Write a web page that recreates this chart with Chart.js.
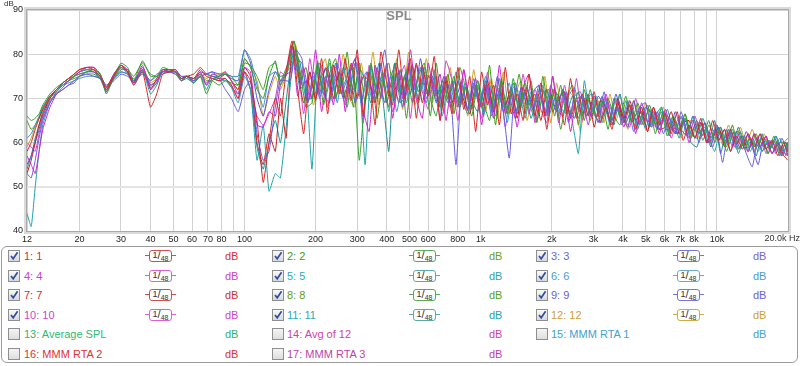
<!DOCTYPE html>
<html><head><meta charset="utf-8">
<script src="https://cdn.jsdelivr.net/npm/chart.js@4"></script>
<style>
html,body{margin:0;padding:0;background:#fff;width:800px;height:366px;overflow:hidden;font-family:"Liberation Sans",Arial,sans-serif;}
#wrap{position:relative;width:800px;height:366px;}
#c{position:absolute;left:0;top:0;}
#legend{position:absolute;left:1px;top:246px;width:797px;height:117px;border:1px solid #9c9c9c;border-radius:6px;box-sizing:border-box;}
.cb{position:absolute;width:12px;height:12px;box-sizing:border-box;border:1px solid #8e8e8e;background:linear-gradient(#fafafa,#d8d8d8);}
.cb svg{position:absolute;left:0;top:0;}
.lt{position:absolute;font-size:11px;line-height:14px;height:14px;white-space:nowrap;}
.ic{position:absolute;width:31px;height:12px;}
.ic .ln{position:absolute;left:0;right:0;top:5px;height:1px;}
.ic .bx{position:absolute;left:4px;top:0;width:23px;height:12px;box-sizing:border-box;border:1.5px solid;border-radius:3px;background:#fff;color:#333;font-size:8px;line-height:9px;text-align:center;white-space:nowrap;}
</style>
</head><body>
<div id="wrap">
<canvas id="c" width="800" height="245"></canvas>
<div id="legend"></div>
</div>
<script>
// ---- data ----
const freqsLow = [12,12.5,13,13.5,14,15,16,17,18,19,20,21.5,23,24.5,26,28,30,32,34,37,40,42.5,45,48,51,54,57,61,65,69,73,78,83,88,94,100,106,113,120,127,135,142];
const freqsHighA = [150,159,168,178,189,200,212,225,238,252,267,283,300,318,337,357,378,400,424,450,476,504,534,566,600,636,673,713,756,801,848,899,952,1009,1069,1133,1200,1271,1347,1427,1512,1602,1697,1798,1905,2018,2138,2265,2400,2543,2694,2854,3024,3204,3394,3596,3810,4036,4276,4531,4800,5085,5388,5708,6048,6407,6788,7192,7620,8073,8553,9061,9600,10171,10776,11417,12095,12815,13577,14384,15240,16146,17106,18123,19201,20000];
const freqsHighB = [153,162,172,182,193,204,216,229,243,257,272,289,306,324,343,364,385,408,432,458,485,514,545,577,612,648,687,727,771,816,865,916,971,1029,1090,1155,1223,1296,1373,1455,1541,1633,1730,1833,1942,2057,2180,2309,2447,2592,2746,2910,3083,3266,3460,3666,3884,4115,4360,4619,4893,5184,5492,5819,6165,6532,6920,7332,7768,8230,8719,9237,9787,10369,10986,11639,12330,13064,13841,14664,15536,16460,17439,18475,19574,20000];
const freqsHighC = [156,165,175,185,196,208,220,234,247,262,278,294,312,330,350,371,393,416,441,467,495,524,556,589,624,661,700,742,786,832,882,934,990,1049,1111,1177,1247,1321,1400,1483,1571,1665,1764,1869,1980,2097,2222,2354,2494,2643,2800,2966,3143,3329,3527,3737,3959,4195,4444,4709,4988,5285,5599,5932,6285,6659,7055,7474,7919,8390,8888,9417,9977,10570,11199,11865,12570,13318,14110,14949,15838,16780,17778,18835,19900,20000];

const spl1 = [58,60,63,65.5,67.5,70.5,72,73.5,74.5,75.5,76.5,77,76.5,75,72,75,77.5,76,73,76,68,71,75.5,76,76.5,74.5,75,74.5,76.5,75,74.5,74,74.5,73,70,76,74,65,51,60,70,66,
76,83,72,62,76,69.5,79,66.5,77.5,71,79,69.5,81,66,76,64,80.5,73.5,68.5,81,70,79,65.5,77.5,70.5,79.5,65,74,66.5,77,67.5,75,62.5,76,68.5,73,64,77,66.5,71,65,75.5,66,73.5,63,72,70.5,64,74.5,65.5,
71,66,71.5,64.5,68,63,70,65.5,68.5,63,68,62.5,68,64,66.5,62,67,60.5,64,61,64.5,60,65,60.5,63,58,61.5,58.5,62,59,62,58.5,60.5,57,60,57];
const spl2 = [66,65,65.5,66.5,68.5,71,72.5,73.5,74.5,75,75.5,76,76.5,75.5,71,75,78,77,74,78.5,75,75,77,76.5,76,74,75,73.5,75,71,74,75,75.5,75,73,79,77,72,70,75,78.5,73,
77,83,76,68,69,77,72,79,70,75,68,77,56,70,78,70,75,68,78,71,76,69,75,78,70,66,74,70,75,68,72.5,67.5,74,69,65,73,71,66.5,74.5,67.5,73.5,68.5,65,71,72,66,73,66.5,67.5,71.5,65,72,65.5,69.5,63,70,66,70.5,64.5,67,64,68.5,64,67,61.5,66,63,66.5,61,64,61.5,65,60,63.5,58,62,62.5,58.5,61,59,61,57.5,61.5,58,60,59];
const spl3 = [53,52,56,61,65,69,71,72,73,73.5,75,75.5,75,74.5,72.5,74,75.5,75,74,75.5,74,75.5,76,76,76,75,75,74,75,75.5,76,74.5,72,70,67,72,74,62,56,58,68,74,
74,81,79,69,76,70,75,71,78,73,76,69,74,76,70,75,81,70,76,68,78,72,77,70,74,68,74,72,55,73,67.5,74.5,68,73,66,72,67,56.5,73.5,68.5,72.5,67.5,73,66,70,67,72,64.5,70.5,71.5,66,69,64.5,71.5,65,70,64,68.5,62.5,68,69,63.5,67,62,65.5,62,67,62.5,65,60,64.5,61,63,55.5,63,59,61.5,57.5,54.5,61,59,60.5,57.5,61,58,60];
const spl4 = [57,55,53,58,63,68,71,72.5,74,75,76,77,77,75.5,71.5,75.5,77.5,76.5,73.5,77.5,72,73.5,76.5,76,75.5,74,75,74,76,73,75.5,75,76,74,71,77,76,64,63.5,67,66,73,
76,82,70.5,77,70,81,67,75.5,68.5,80,67,77,79.5,67.5,62.5,77.5,70,78,65.5,76.5,68.5,81,70,65.5,78,70.5,75.5,65,74,68,76.5,69,74.5,64,73,65.5,77.5,66.5,71,63.5,72.5,75.5,64.5,70.5,66,75,64.5,71.5,62.5,70,
70,64,70.5,66.5,71,65,68,63.5,68.5,62,69,64.5,67,62,67.5,63,62,65.5,60,64,64.5,60,63,60.5,63,58,62.5,59.5,58,62,59,61.5,57.5,60,58,57];
const spl5 = [44,41,50,58,64,69,71.5,73,74,75,76,76.5,76.5,75,71.5,75,77,75.5,73,76.5,71,73,76,76,76,74.5,75,73.5,75,72,74.5,74,74,72.5,69,75,72,56,64,49,53,52,
68,80,72,74,54,76,71,78,70,75,77,72,75,55,77,72,76,67,75,76,69,75,70,77,71,75,66,73,72,68,73.5,68.5,74,66,73,69,72,64.5,72.5,71.5,65.5,71.5,68,73,66,70,67,71.5,64.5,57.5,74,66,70.5,64.5,69,66,71,64.5,67.5,63,68,63.5,66,68,62.5,65,61,65.5,62,61,65.5,61,58,63.5,60,63,57.5,61.5,58,61,58,60.5,58.5,61,57,60];
const spl6 = [61,62,64,66,68,70.5,72,73,73.5,74,74.5,75,75,74.5,72.5,74.5,76,75.5,74.5,76,74,75,75.5,76,75.5,74.5,75,74,75,75.5,75,75,75.5,75,75,81,79,73,68,75,76,74,
77,79,78,69,74,78,70,76,69,77,71,78,69,74,69,78,72,75,67,74,77,70,74,69,77,70,73,68,76,70,66.5,72.5,69,75,67,71,68,73.5,66.5,71.5,70.5,66.5,72,67,73,68,66,70.5,72.5,66.5,70,71,66.5,69.5,64,68,65,69.5,65.5,68,63,67.5,63,67,65.5,62,66,61.5,66,62,63.5,60,64,60.5,62,60,62.5,58.5,61,58,61,58.5,61.5,58,59,60];
const spl7 = [53,56,60,64,66.5,70,72,73.5,74.5,75.5,76.5,77,77,75.5,72.5,75.5,77.5,76,73.5,76.5,72,74.5,76.5,76.5,76,74.5,75,75.5,77,75.5,75,74.5,75.5,74,72,77,75,60,55,62,58,70,
61,82,76,69,76,70,75,77,70,76,70,78,70,75,74,69,78,69,75,69,75,71,78,69,75,73,68,75,69,74,69.5,66.5,73,68,74,67,72,68.5,72.5,65.5,72.5,68.5,71,65,72,67,70,71.5,65.5,69.5,66,71,63.5,69.5,68,64,69,64.5,69.5,65,67,62.5,68,63,63.5,67,62,64.5,65,61,65.5,60,61,63.5,59,63,59.5,61.5,58,62,59,61.5,57.5,60,57,56];
const spl8 = [65,63,64,65.5,68,70.5,72,73,74,74.5,75,75.5,75.5,74.5,72.5,74.5,76.5,76.5,75,78,75.5,75,76,76.5,76,74,75,74.5,75.5,74,74,73,74,73.5,73,78,77.5,75,72,77,78,74,
78,83,73.5,77,70,78.5,68.5,75.5,79,71,80.5,68,78,69,77.5,65.5,74.5,78,70,76.5,65.5,77.5,71.5,76,66,78,68,75.5,66.5,77,72,66,73,67,77.5,64,74.5,66.5,68,75.5,66.5,74,64.5,75,67.5,72,63,70,73,64,
72,65,69.5,65.5,70,66,64,69.5,64.5,69,65,67.5,62,68,63.5,66,62,66.5,62,65,60.5,64,61,62.5,59,64,58.5,61.5,59,62,58,60.5,58.5,60,60,58];
const spl9 = [55,57,60,63,66,69.5,71,72,73,74,75,76,76,75,73,74.5,76,75.5,74,76,73,74,76,76.5,76.5,75,75,74.5,76,75.5,76,75.5,75.5,74.5,74,81,78,70,66,72,76,75,
76,80,73,74,75,71,77,72,75,70,75,79,69,76,71,74,69,75,78,70,77,70,79,71,75,71,75,69,70,74,67.5,73.5,68,74,68,75,67,70.5,65.5,72.5,68.5,71.5,73,66,71,67,72,67.5,65.5,70.5,69,66,70.5,68.5,65,71,66,63.5,69.5,64,68,66.5,63,67,61.5,67,63,61.5,66,62,64.5,59,64,60.5,62,62,58.5,62.5,59,55,61,58.5,61.5,57,60,58];
const spl10 = [60,59,58,62,65.5,69,71.5,73,74,75,75.5,76,76,75,72,75,77,76,73.5,77,73,74,76,76,76,74.5,75,73.5,75.5,73.5,75,74.5,74.5,73,70,76,72,66,64,66.5,70,76,
75,82,78,66.5,79,71,77.5,68,77.5,75.5,68.5,77,78,64.5,77.5,70,74.5,76.5,67,73.5,77.5,65.5,77.5,71.5,67.5,76.5,65,78.5,74,65,76.5,67.5,71.5,65.5,76,67,74.5,63.5,72.5,66.5,75.5,66.5,72,67.5,64.5,75,66,73,65.5,74.5,
65,70,66.5,64.5,70,65,69,65.5,63.5,70,64,68.5,64,63,66.5,61,65,65.5,61,66,61.5,63,59,63.5,60,63,58.5,59.5,62,58,62,57.5,60.5,58,60,61];
const spl11 = [54,57,61,64,67,70,72,73,74,75,76,76.5,76,74.5,71.5,74.5,77,76,73.5,76.5,72.5,73.5,76,76,76,74,74.5,73.5,75,73,74.5,74,74.5,72.5,71,76,72,59,54,60,65,60,
73,81,78,70,70,78,71,69,78,71,74,71,77,74,69,77,70,58,78,69,71,77,69,75,75,69,72,69,74,69,72.5,69.5,67,72,71,66,73,67.5,73.5,66.5,71.5,65.5,70,72,67,72,68,66.5,70.5,65.5,70,69,65.5,70.5,66,64,71,64.5,67.5,64,67,63.5,67,64,67.5,63,62,65.5,60,59,63.5,60,65,57.5,63,59,63.5,59.5,61,57,62,57.5,60.5,57,60,58];
const spl12 = [59,61,63.5,65.5,67.5,70,71.5,73,74,75,76,76.5,76.5,75,72.5,75.5,77.5,76,74,77,73.5,74.5,76.5,76,76,74.5,75,74,75.5,74.5,75.5,75.5,76,74,72,79,77,74,66,71,75,72,
78,82,73.5,74,68.5,75.5,79,69.5,71.5,80,70,68,78,70.5,80.5,68.5,76,69,79,67.5,80.5,68.5,71.5,79,69,75,66.5,77,68,72.5,66,76.5,68.5,67,74.5,65.5,76,66.5,71,74,65,71,66,75,64.5,73.5,66,71.5,70,62.5,
71,67,69.5,64.5,71,65,69,63,69.5,65,69,63.5,66,68,62.5,65,61,64.5,65,61,64.5,61,64,59.5,64,60,63.5,59.5,63,59,62,58.5,60.5,57,59,60];

const seriesValues = [spl1,spl2,spl3,spl4,spl5,spl6,spl7,spl8,spl9,spl10,spl11,spl12];
const seriesHighGrid = [freqsHighA,freqsHighB,freqsHighC,freqsHighA,freqsHighB,freqsHighC,freqsHighA,freqsHighB,freqsHighC,freqsHighA,freqsHighB,freqsHighC];
const seriesNames = ['1','2','3','4','5','6','7','8','9','10','11','12'];
const seriesColors = ['#d62424','#2e9e2e','#6a5ae0','#cc22cc','#1fa2aa','#3a8ec8','#c41c1c','#3f9a16','#5a4ed8','#d040c0','#128f8d','#d0a020'];

const xTickValues = [12,20,30,40,50,60,70,80,90,100,200,300,400,500,600,700,800,900,1000,2000,3000,4000,5000,6000,7000,8000,9000,10000,20000];
const xTickLabels = ['12','20','30','40','50','60','70','80','','100','200','300','400','500','600','','800','','1k','2k','3k','4k','5k','6k','7k','8k','','10k',''];
const yTickValues = [40,50,60,70,80,90];

// ---- chart ----
const decor = {
  id:'decor',
  afterDraw(chart){
    const {ctx, chartArea:a} = chart;
    ctx.save();
    ctx.strokeStyle = '#dadada'; ctx.lineWidth = 3;
    ctx.strokeRect(a.left-1.5, a.top-1.5, a.right-a.left+3, a.bottom-a.top+3);
    ctx.strokeStyle = '#a9a9a9'; ctx.lineWidth = 1;
    ctx.strokeRect(a.left-0.5, a.top-0.5, a.right-a.left+1, a.bottom-a.top+1);
    ctx.fillStyle = '#8a8a8a';
    ctx.font = 'bold 13px "Liberation Sans", Arial, sans-serif';
    ctx.textAlign = 'center'; ctx.textBaseline = 'middle';
    ctx.fillText('SPL', 399, 16);
    ctx.fillStyle = '#333';
    ctx.font = '8px "Liberation Sans", Arial, sans-serif';
    ctx.textAlign = 'left';
    ctx.fillText('dB', 4, 4);
    ctx.font = '9px "Liberation Sans", Arial, sans-serif';
    ctx.textAlign = 'right'; ctx.textBaseline = 'top';
    ctx.fillText('20.0k Hz', 800, 234);
    ctx.restore();
  }
};

new Chart(document.getElementById('c').getContext('2d'), {
  type:'line',
  data:{
    datasets: seriesValues.map((vals,i)=>{
      const xs = freqsLow.concat(seriesHighGrid[i]);
      if (xs.length !== vals.length) console.error('length mismatch', i, xs.length, vals.length);
      return {
        label: seriesNames[i],
        data: xs.map((f,j)=>({x:f, y:vals[j]})),
        borderColor: seriesColors[i],
        borderWidth: 1,
        pointRadius: 0,
        tension: 0.15,
        fill: false
      };
    })
  },
  options:{
    responsive:false, animation:false, devicePixelRatio:1,
    layout:{padding:{left:0,right:12,top:10,bottom:0}},
    plugins:{legend:{display:false}, tooltip:{enabled:false}, title:{display:false}},
    scales:{
      x:{
        type:'logarithmic', min:12, max:20000,
        afterBuildTicks:(s)=>{ s.ticks = xTickValues.map(v=>({value:v})); },
        afterFit:(s)=>{ s.height = 14; },
        ticks:{autoSkip:false, maxRotation:0, minRotation:0, padding:3, color:'#222',
          font:{size:9, family:'"Liberation Sans", Arial, sans-serif'},
          callback:(v,i)=> xTickLabels[i]},
        grid:{color:'#d2d2d2', lineWidth:1, drawTicks:false},
        border:{display:false}
      },
      y:{
        min:40, max:90,
        afterBuildTicks:(s)=>{ s.ticks = yTickValues.map(v=>({value:v})); },
        afterFit:(s)=>{ s.width = 27; },
        ticks:{padding:4, color:'#222', font:{size:9, family:'"Liberation Sans", Arial, sans-serif'}},
        grid:{color:(c)=> (c.tick && c.tick.value===50) ? '#e4e4e4' : '#d4d4d4',
              lineWidth:(c)=> (c.tick && c.tick.value===50) ? 2 : 1, drawTicks:false},
        border:{display:false}
      }
    }
  },
  plugins:[decor]
});

// ---- legend ----
const legendItems = [
  [0,0,'1: 1','#d83030',true,'#cc5050','#d83030'],
  [0,1,'2: 2','#3a9e28',true,'#5aaa55','#6aa020'],
  [0,2,'3: 3','#6a66d8',true,'#7a74d8','#7a66d0'],
  [1,0,'4: 4','#cc40cc',true,'#d860d8','#cc40cc'],
  [1,1,'5: 5','#30a8bc',true,'#5aaaaa','#30a0b0'],
  [1,2,'6: 6','#4a9ccc',true,'#6aaad0','#4a9ccc'],
  [2,0,'7: 7','#d03030',true,'#cc5050','#d03030'],
  [2,1,'8: 8','#5aa020',true,'#5aaa55','#5aa020'],
  [2,2,'9: 9','#6a60d8',true,'#7a74d8','#6a60d8'],
  [3,0,'10: 10','#cc44cc',true,'#d860d8','#cc44cc'],
  [3,1,'11: 11','#30a8bc',true,'#5aaaaa','#2aa0a8'],
  [3,2,'12: 12','#d0a030',true,'#d0aa44','#d0a030'],
  [4,0,'13: Average SPL','#30b878',false,null,'#30b070'],
  [4,1,'14: Avg of 12','#cc44aa',false,null,'#cc44aa'],
  [4,2,'15: MMM RTA 1','#44a0d0',false,null,'#44a0d0'],
  [5,0,'16: MMM RTA 2','#dd3333',false,null,'#dd3333'],
  [5,1,'17: MMM RTA 3','#bb44aa',false,null,'#bb44aa']
];
const wrap = document.getElementById('wrap');
const colX = [8,272,536];
function el(cls, x, y, html){ const d=document.createElement('div'); d.className=cls; d.style.left=x+'px'; d.style.top=y+'px'; if(html!==undefined) d.innerHTML=html; wrap.appendChild(d); return d; }
legendItems.forEach(([r,c,text,tc,checked,ic,dbc])=>{
  const cy = 256 + r*19.6;
  const bx = colX[c];
  const cb = el('cb', bx, Math.round(cy-6));
  if(checked){
    cb.innerHTML = '<svg width="10" height="10" viewBox="0 0 10 10"><path d="M2 5 L4.2 7.8 L8.6 1.2" fill="none" stroke="#2f4f9c" stroke-width="1.7"/></svg>';
  } else {
    cb.style.background = 'linear-gradient(#f4f4f4,#dedede)';
  }
  const t = el('lt', bx+(c===0?16:15), Math.round(cy-7), text); t.style.color = tc;
  if(ic){
    const icon = el('ic', bx+137, Math.round(cy-6));
    icon.innerHTML = '<div class="ln" style="background:'+ic+'"></div><div class="bx" style="border-color:'+ic+'"><span style="font-size:9px;position:relative;top:-1px">1</span><span style="font-size:11px">/</span><span style="font-size:7px;position:relative;top:2px">48</span></div>';
  }
  const db = el('lt', bx+217, Math.round(cy-7), 'dB'); db.style.color = dbc;
});
</script>
</body></html>
